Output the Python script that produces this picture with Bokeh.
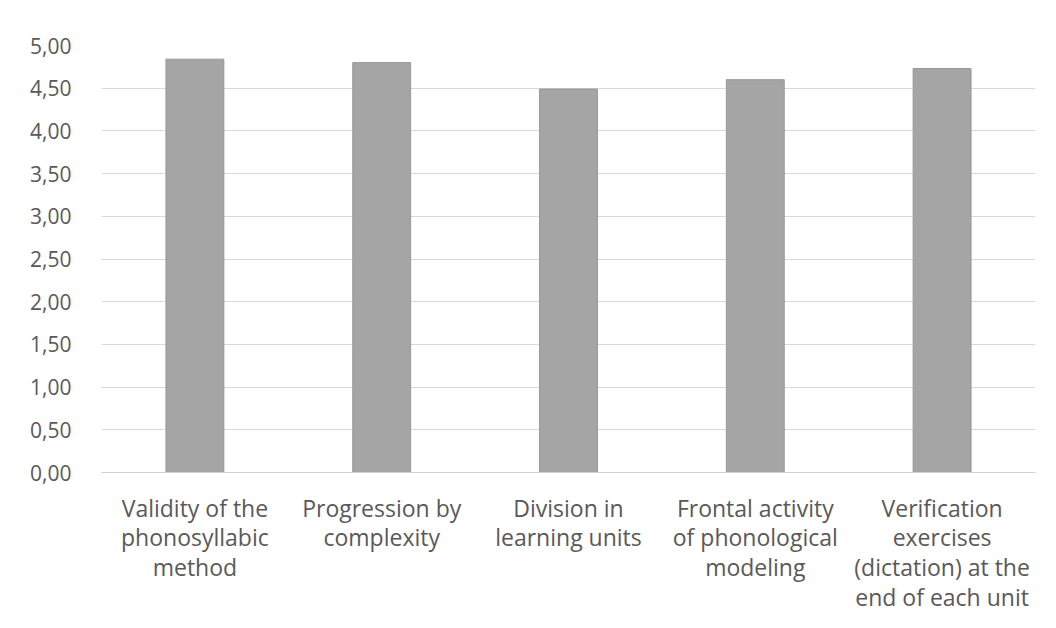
from bokeh.plotting import figure
from bokeh.models import FixedTicker, Range1d
from bokeh.embed import file_html
from bokeh.resources import INLINE

categories = [
    "Validity of the\nphonosyllabic\nmethod",
    "Progression by\ncomplexity",
    "Division in\nlearning units",
    "Frontal activity\nof phonological\nmodeling",
    "Verification\nexercises\n(dictation) at the\nend of each unit",
]
values = [4.84, 4.80, 4.49, 4.60, 4.73]
y_ticks = [0, 0.5, 1.0, 1.5, 2.0, 2.5, 3.0, 3.5, 4.0, 4.5, 5.0]
y_tick_labels = ["0,00", "0,50", "1,00", "1,50", "2,00", "2,50", "3,00", "3,50", "4,00", "4,50", "5,00"]

p = figure(x_range=categories, width=1042, height=620, output_backend="svg",
           toolbar_location=None, min_border_left=101, min_border_right=7,
           min_border_top=45, min_border_bottom=148)
p.y_range = Range1d(0, 5)
p.vbar(x=categories, top=values, width=0.31, fill_color="#a5a5a5", line_color="#999999")

p.outline_line_color = None
p.background_fill_color = "white"
p.xgrid.grid_line_color = None
p.ygrid.grid_line_color = "#d9d9d9"
p.ygrid.grid_line_width = 1

p.yaxis.ticker = FixedTicker(ticks=y_ticks)
p.yaxis.major_label_overrides = {t: l for t, l in zip(y_ticks, y_tick_labels)}
p.yaxis.axis_line_color = None
p.yaxis.major_tick_line_color = None
p.yaxis.minor_tick_line_color = None
p.yaxis.major_label_standoff = 24
p.yaxis.major_label_text_font = "Open Sans"
p.yaxis.major_label_text_font_size = "21px"
p.yaxis.major_label_text_color = "#595959"

p.xaxis.axis_line_color = "#d0d0d0"
p.xaxis.major_tick_line_color = None
p.xaxis.minor_tick_line_color = None
p.xaxis.major_label_standoff = 13
p.xaxis.major_label_text_font = "Open Sans"
p.xaxis.major_label_text_font_size = "23px"
p.xaxis.major_label_text_color = "#595959"
p.xaxis.major_label_text_line_height = 0.93
p.xaxis.major_label_orientation = "horizontal"

open("out.html", "w").write(file_html(p, INLINE))
